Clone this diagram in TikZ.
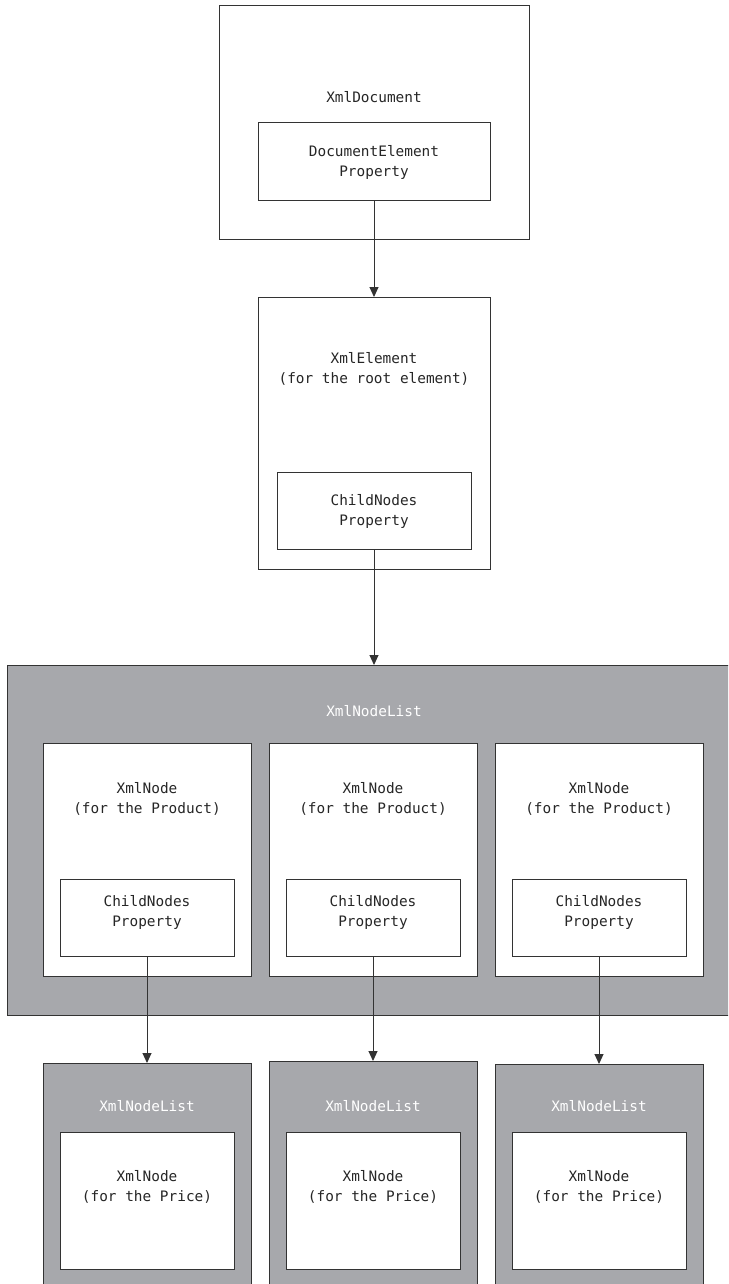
\documentclass[tikz,border=0pt]{standalone}
\usepackage{fontspec}
\setmonofont{DejaVu Sans Mono}
\usetikzlibrary{arrows.meta}
\definecolor{boxgray}{HTML}{A7A8AC}
\definecolor{linecol}{HTML}{333333}
\begin{document}
\begin{tikzpicture}[x=1pt,y=-1pt,
  frame/.style={draw=linecol,line width=1pt,fill=white,inner sep=0pt,outer sep=0pt,anchor=north west},
  grayframe/.style={frame,fill=boxgray},
  label/.style={font=\ttfamily\fontsize{14.4}{20}\selectfont,align=center,text=black!85,inner sep=0pt},
  wlabel/.style={label,text=white},
  arr/.style={draw=linecol,line width=1pt,-{Triangle[width=9pt,length=10pt]}}]
\useasboundingbox (0,0) rectangle (728,1284);
\clip (0,0) rectangle (728,1284);
% top document
\node[frame,minimum width=310,minimum height=233] (doc) at (219,6) {};
\node[label] (doctxt) at (374,97) {XmlDocument};
\node[frame,minimum width=232,minimum height=77] (dep) at (258,123) {};
\node[label] (deptxt) at (374,162) {DocumentElement\\Property};
% root element
\node[frame,minimum width=232,minimum height=272] (elem) at (258,297) {};
\node[label] (elemtxt) at (374,369) {XmlElement\\(for the root element)};
\node[frame,minimum width=194,minimum height=77] (cn0) at (277,472) {};
\node[label] (cn0txt) at (374,511) {ChildNodes\\Property};
% big list
\node[grayframe,minimum width=724,minimum height=350] (list) at (7,665) {};
\node[wlabel] (listtxt) at (374,711) {XmlNodeList};
\foreach \i/\x in {1/43,2/269,3/495}{
  \node[frame,minimum width=208,minimum height=233] (prod\i) at (\x,743) {};
  \node[label] (prodtxt\i) at (\x+104,799) {XmlNode\\(for the Product)};
  \node[frame,minimum width=174,minimum height=77] (cn\i) at (\x+17,879) {};
  \node[label] (cntxt\i) at (\x+104,912) {ChildNodes\\Property};
}
% bottom lists
\foreach \i/\x/\t in {1/43/1063,2/269/1061,3/495/1064}{
  \node[grayframe,minimum width=208,minimum height=240] (nl\i) at (\x,\t) {};
  \node[wlabel] (nltxt\i) at (\x+104,1106) {XmlNodeList};
  \node[frame,minimum width=174,minimum height=137] (price\i) at (\x+17,1132) {};
  \node[label] (pricetxt\i) at (\x+104,1187) {XmlNode\\(for the Price)};
}
% arrows
\draw[arr] (dep.south) -- (dep.south |- elem.north);
\draw[arr] (cn0.south) -- (cn0.south |- list.north);
\foreach \i in {1,2,3}{
  \draw[arr] (cn\i.south) -- (cn\i.south |- nl\i.north);
}
\end{tikzpicture}
\end{document}
